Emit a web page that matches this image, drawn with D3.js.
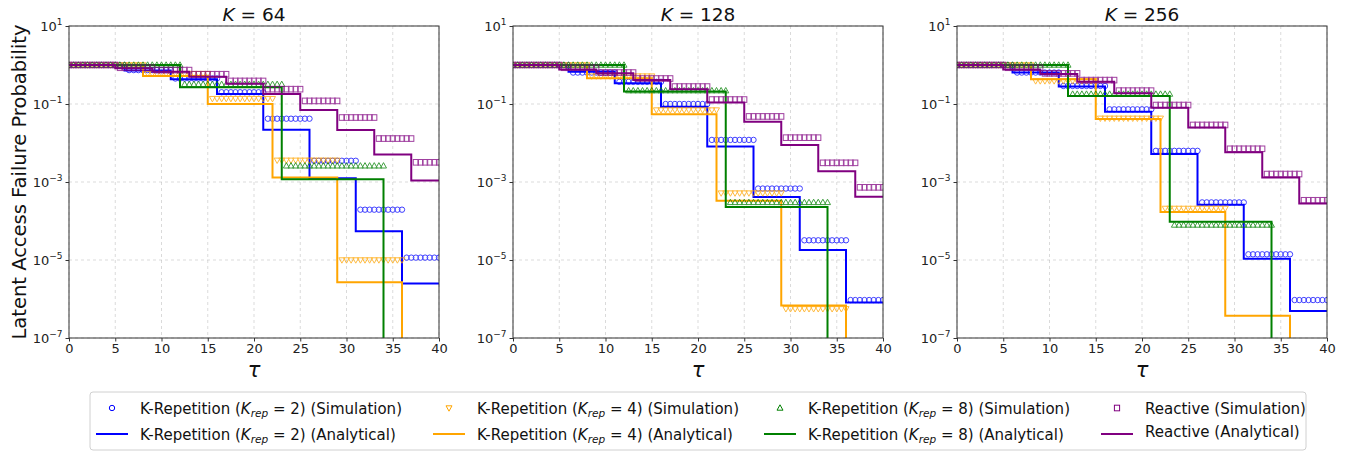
<!DOCTYPE html>
<html><head><meta charset="utf-8">
<script src="https://cdn.jsdelivr.net/npm/d3@7"></script>
<style>
body{margin:0;background:#fff;}
text{font-family:"DejaVu Sans",sans-serif;}
</style></head>
<body><svg id="c" width="1361" height="455"></svg>
<script>
// ---------------- DATA ----------------
const panelK = ["64", "128", "256"];
const xTicks = [0, 5, 10, 15, 20, 25, 30, 35, 40];
const yTicks = [1e1, 1e-1, 1e-3, 1e-5, 1e-7];
const yTickExp = ["1", "−1", "−3", "−5", "−7"];
const simTaus = d3.range(0, 40.001, 0.5); // simulation sample points

// step change points (tau) for each scheme
const stepsK2 = [0, 6, 11, 16, 21, 26, 31, 36];
const stepsK4 = [0, 8, 15, 22, 29, 36];
const stepsK8 = [0, 12, 23, 34];
const stepsRe = [0, 5, 9, 13, 17, 21, 25, 29, 33, 37];

// K = 64
const k2Ana64 = [1, 0.72, 0.43, 0.18, 0.022, 0.00124, 5.5e-5, 2.5e-6];
const k2Sim64 = [1, 0.74, 0.45, 0.2, 0.042, 0.0035, 1.95e-4, 1.15e-5];
const k4Ana64 = [1, 0.52, 0.1, 0.0013, 2.7e-6, 0];
const k4Sim64 = [1, 0.6, 0.137, 0.0036, 1e-5, 0];
const k8Ana64 = [1, 0.27, 0.00117, 0];
const k8Sim64 = [1, 0.32, 0.0026, 0];
const reAna64 = [1, 0.82, 0.67, 0.5, 0.33, 0.18, 0.07, 0.0216, 0.0051, 0.0011];
const reSim64 = [1, 0.85, 0.74, 0.58, 0.39, 0.24, 0.12, 0.045, 0.013, 0.0032];
// K = 128
const k2Ana128 = [1, 0.67, 0.34, 0.085, 0.0081, 4.1e-4, 1.8e-5, 8.1e-7];
const k2Sim128 = [1, 0.64, 0.37, 0.1, 0.012, 6.8e-4, 3.2e-5, 9.4e-7];
const k4Ana128 = [1, 0.46, 0.055, 3.3e-4, 6.8e-7, 0];
const k4Sim128 = [1, 0.52, 0.07, 5.2e-4, 5.6e-7, 0];
const k8Ana128 = [1, 0.21, 2.3e-4, 0];
const k8Sim128 = [1, 0.22, 3e-4, 0];
const reAna128 = [1, 0.77, 0.61, 0.41, 0.24, 0.11, 0.035, 0.0089, 0.0019, 4.2e-4];
const reSim128 = [1, 0.85, 0.64, 0.45, 0.28, 0.13, 0.048, 0.0137, 0.0031, 7.3e-4];
// K = 256
const k2Ana256 = [1, 0.64, 0.28, 0.063, 0.0052, 2.6e-4, 1.07e-5, 4.9e-7];
const k2Sim256 = [1, 0.64, 0.29, 0.073, 0.0063, 3e-4, 1.4e-5, 9.4e-7];
const k4Ana256 = [1, 0.43, 0.041, 1.7e-4, 3.7e-7, 0];
const k4Sim256 = [1, 0.39, 0.043, 2.1e-4, 0, 0];
const k8Ana256 = [1, 0.16, 9.6e-5, 0];
const k8Sim256 = [1, 0.18, 7.9e-5, 0];
const reAna256 = [1, 0.77, 0.59, 0.37, 0.19, 0.08, 0.025, 0.0058, 0.0013, 2.8e-4];
const reSim256 = [1, 0.85, 0.61, 0.41, 0.22, 0.094, 0.029, 0.0071, 0.0016, 3.4e-4];

const legendSim = ["(Simulation)", "(Analytical)"];

// ---------------- BUILD ----------------
const panelData = [
  [[stepsK2, k2Sim64, k2Ana64], [stepsK4, k4Sim64, k4Ana64], [stepsK8, k8Sim64, k8Ana64], [stepsRe, reSim64, reAna64]],
  [[stepsK2, k2Sim128, k2Ana128], [stepsK4, k4Sim128, k4Ana128], [stepsK8, k8Sim128, k8Ana128], [stepsRe, reSim128, reAna128]],
  [[stepsK2, k2Sim256, k2Ana256], [stepsK4, k4Sim256, k4Ana256], [stepsK8, k8Sim256, k8Ana256], [stepsRe, reSim256, reAna256]]
];
const colors = ["#0000ff", "#ffa500", "#008000", "#800080"];
const markers = ["circle", "tridown", "triup", "square"];

const svg = d3.select("#c");
const panelsX = [[69, 439], [513, 883], [957, 1327]];
const plotTop = 26, plotBottom = 338;

function drawMarker(g, type, x, y, color) {
  if (type === "circle") {
    g.append("circle").attr("cx", x).attr("cy", y).attr("r", 2.7)
      .attr("fill", "none").attr("stroke", color).attr("stroke-width", 1);
  } else if (type === "square") {
    g.append("rect").attr("x", x - 2.6).attr("y", y - 2.8).attr("width", 5.2).attr("height", 5.6)
      .attr("fill", "none").attr("stroke", color).attr("stroke-width", 1);
  } else if (type === "triup") {
    g.append("path").attr("d", `M${x},${y - 3.2}L${x + 3},${y + 2.2}L${x - 3},${y + 2.2}Z`)
      .attr("fill", "none").attr("stroke", color).attr("stroke-width", 1);
  } else {
    g.append("path").attr("d", `M${x},${y + 3.2}L${x + 3},${y - 2.2}L${x - 3},${y - 2.2}Z`)
      .attr("fill", "none").attr("stroke", color).attr("stroke-width", 1);
  }
}

panelsX.forEach(([L, R], pi) => {
  const x = d3.scaleLinear().domain([0, 40]).range([L, R]);
  const y = d3.scaleLog().domain([1e-7, 1e1]).range([plotBottom, plotTop]).clamp(true);
  const yv = v => v > 0 ? y(v) : plotBottom + 5;
  const g = svg.append("g");
  const clipId = "clip" + pi;
  svg.append("clipPath").attr("id", clipId).append("rect")
    .attr("x", L).attr("y", plotTop).attr("width", R - L).attr("height", plotBottom - plotTop);

  // grid
  g.selectAll(".gx").data(xTicks).join("line")
    .attr("x1", d => x(d)).attr("x2", d => x(d)).attr("y1", plotTop).attr("y2", plotBottom)
    .attr("stroke", "#b0b0b0").attr("stroke-opacity", 0.6).attr("stroke-width", 0.8).attr("stroke-dasharray", "3,3");
  g.selectAll(".gy").data(yTicks).join("line")
    .attr("x1", L).attr("x2", R).attr("y1", d => y(d)).attr("y2", d => y(d))
    .attr("stroke", "#b0b0b0").attr("stroke-opacity", 0.6).attr("stroke-width", 0.8).attr("stroke-dasharray", "3,3");

  const plot = g.append("g").attr("clip-path", `url(#${clipId})`);
  panelData[pi].forEach(([steps, sim, ana], si) => {
    // simulation markers
    const mg = plot.append("g").attr("opacity", 0.75);
    simTaus.forEach(t => {
      const idx = steps.filter((s, j) => j > 0 && s < t).length;
      const v = sim[idx];
      if (v > 0) drawMarker(mg, markers[si], x(t), y(v), colors[si]);
    });
    // analytical step line
    const pts = steps.map((s, j) => [s, ana[j]]);
    pts.push([40, ana[ana.length - 1]]);
    const line = d3.line().x(d => x(d[0])).y(d => yv(d[1])).curve(d3.curveStepAfter);
    plot.append("path").attr("d", line(pts)).attr("fill", "none")
      .attr("stroke", colors[si]).attr("stroke-width", 2);
  });

  // frame
  g.append("rect").attr("x", L).attr("y", plotTop).attr("width", R - L).attr("height", plotBottom - plotTop)
    .attr("fill", "none").attr("stroke", "#333").attr("stroke-width", 1);

  // x ticks
  const xa = g.append("g").attr("transform", `translate(0,${plotBottom})`)
    .call(d3.axisBottom(x).tickValues(xTicks).tickSize(3.5).tickPadding(2).tickFormat(d3.format("d")));
  xa.select(".domain").remove();
  xa.selectAll("text").attr("font-size", 13).attr("fill", "#222").attr("font-family", "DejaVu Sans");
  xa.selectAll("line").attr("stroke", "#333");

  // y ticks
  const ya = g.append("g").attr("transform", `translate(${L},0)`)
    .call(d3.axisLeft(y).tickValues(yTicks).tickSize(3.5).tickPadding(3).tickFormat(() => ""));
  ya.select(".domain").remove();
  ya.selectAll("line").attr("stroke", "#333");
  ya.selectAll(".tick").each(function (d, i) {
    const t = d3.select(this).select("text").attr("font-size", 13).attr("fill", "#222")
      .attr("font-family", "DejaVu Sans").attr("dy", "0.32em");
    t.text(null);
    t.append("tspan").text("10");
    t.append("tspan").attr("font-size", 9).attr("dy", "-0.65em").text(yTickExp[i]);
  });

  // title
  const tt = svg.append("text").attr("x", (L + R) / 2).attr("y", 21).attr("text-anchor", "middle")
    .attr("font-size", 18.5).attr("fill", "#111");
  tt.append("tspan").attr("font-style", "italic").text("K");
  tt.append("tspan").attr("xml:space", "preserve").text(" = " + panelK[pi]);

  // x label
  svg.append("text").attr("x", (L + R) / 2).attr("y", 377).attr("text-anchor", "middle")
    .attr("font-size", 21).attr("font-style", "italic").attr("fill", "#111").text("τ");
});

// y label
svg.append("text").attr("transform", `translate(26,${(plotTop + plotBottom) / 2}) rotate(-90)`)
  .attr("text-anchor", "middle").attr("font-size", 19.5).attr("fill", "#111")
  .text("Latent Access Failure Probability");

// ---------------- LEGEND ----------------
const lg = svg.append("g");
lg.append("rect").attr("x", 90).attr("y", 392).attr("width", 1216).attr("height", 58).attr("rx", 3)
  .attr("fill", "#fff").attr("stroke", "#d0d0d0").attr("stroke-width", 1);
const legendNames = [["2"], ["4"], ["8"], null];
const colX = [96, 433, 764, 1101];
const rowY = [408, 434];
colors.forEach((c, ci) => {
  rowY.forEach((ry, ri) => {
    const lx = colX[ci];
    if (ri === 0) drawMarker(lg, markers[ci], lx + 16, ry, c);
    else lg.append("line").attr("x1", lx).attr("x2", lx + 32).attr("y1", ry).attr("y2", ry)
      .attr("stroke", c).attr("stroke-width", 2);
    const t = lg.append("text").attr("x", lx + 44).attr("y", ry + 5.5 - (ci === 3 && ri === 1 ? 3 : 0))
      .attr("font-size", 15).attr("fill", "#111");
    if (legendNames[ci]) {
      t.append("tspan").text("K-Repetition (");
      t.append("tspan").attr("font-style", "italic").text("K");
      t.append("tspan").attr("font-style", "italic").attr("font-size", 10.5).attr("dy", 3).text("rep");
      t.append("tspan").attr("dy", -3).text(" = " + legendNames[ci][0] + ") " + legendSim[ri]);
    } else {
      t.text("Reactive " + legendSim[ri]);
    }
  });
});
</script></body></html>
